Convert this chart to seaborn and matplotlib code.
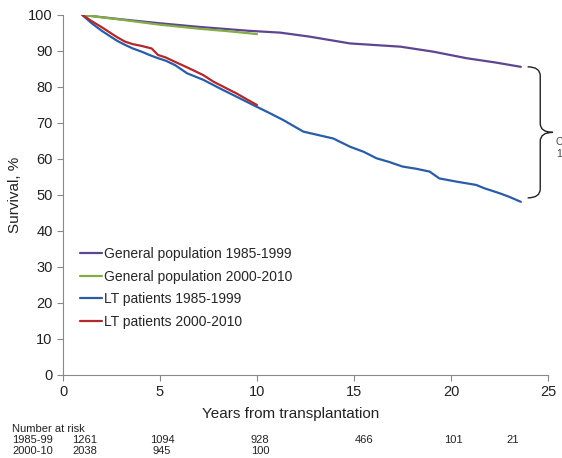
import matplotlib
matplotlib.use("Agg")
import matplotlib.pyplot as plt
from matplotlib.path import Path
from matplotlib.patches import PathPatch
import seaborn as sns
import pandas as pd

# Kaplan-Meier style survival estimates (years, %)
gp_8599_x = [1.0, 3.0, 5.0, 7.0, 9.6, 11.2, 12.7, 14.8, 17.4, 19.1, 20.8, 22.3, 23.6]
gp_8599_y = [100, 98.8, 97.7, 96.7, 95.6, 95.1, 94.0, 92.1, 91.2, 89.8, 88.0, 86.8, 85.6]

gp_0010_x = [1.0, 3.0, 5.0, 7.0, 8.5, 10.0]
gp_0010_y = [100, 98.7, 97.3, 96.2, 95.5, 94.7]

lt_8599_x = [1.0, 1.48, 2.0, 2.34, 2.8, 3.2, 3.6, 4.06, 4.5, 4.9, 5.3, 5.77, 6.4,
             7.23, 8.09, 8.95, 9.8, 10.67, 11.36, 12.39, 13.2, 13.93, 14.8, 15.5,
             16.16, 16.8, 17.5, 18.2, 18.9, 19.4, 20.3, 21.3, 21.7, 22.5, 23.0, 23.6]
lt_8599_y = [100, 97.7, 95.6, 94.4, 92.8, 91.7, 90.7, 89.8, 88.8, 88.0, 87.3, 86.1,
             83.8, 82.0, 79.6, 77.3, 75.0, 72.7, 70.8, 67.6, 66.6, 65.7, 63.4, 62.0,
             60.2, 59.2, 57.9, 57.3, 56.5, 54.6, 53.7, 52.8, 51.9, 50.5, 49.5, 48.1]

lt_0010_x = [1.0, 1.48, 2.0, 2.34, 2.8, 3.2, 3.6, 4.06, 4.57, 4.9, 5.3, 5.77, 6.5,
             7.23, 7.75, 8.4, 8.95, 9.5, 10.0]
lt_0010_y = [100, 98.3, 96.6, 95.4, 93.8, 92.6, 91.9, 91.4, 90.7, 88.9, 88.2, 87.0,
             85.2, 83.3, 81.5, 79.7, 78.2, 76.5, 75.0]

series_names = ["General population 1985-1999", "General population 2000-2010",
                "LT patients 1985-1999", "LT patients 2000-2010"]
series_colors = ["#5e4592", "#84ad45", "#2a5da8", "#b3282b"]

# Number at risk table
risk_rows = ["1985-99", "2000-10"]
risk_8599 = ["1261", "1094", "928", "466", "101", "21"]
risk_0010 = ["2038", "945", "100"]

x_ticks = [0, 5, 10, 15, 20, 25]
y_ticks = list(range(0, 101, 10))

sns.set_theme(style="white")
plt.rcParams["font.family"] = ["Liberation Sans", "DejaVu Sans"]

frames = []
for name, xs, ys in zip(series_names,
                        [gp_8599_x, gp_0010_x, lt_8599_x, lt_0010_x],
                        [gp_8599_y, gp_0010_y, lt_8599_y, lt_0010_y]):
    frames.append(pd.DataFrame({"years": xs, "survival": ys, "group": name}))
df = pd.concat(frames, ignore_index=True)

W, H = 562, 458
fig = plt.figure(figsize=(W / 100, H / 100), dpi=100)
ax = fig.add_axes([63 / W, 1 - 375 / H, (548 - 63) / W, (375 - 15) / H])

sns.lineplot(data=df, x="years", y="survival", hue="group", hue_order=series_names,
             palette=dict(zip(series_names, series_colors)), sort=False,
             estimator=None, linewidth=1.6, ax=ax)

ax.set_xlim(0, 25)
ax.set_ylim(0, 100)
ax.set_xticks(x_ticks)
ax.set_yticks(y_ticks)
ax.tick_params(axis="both", labelsize=10.5, labelcolor="#222222", length=4, width=0.8,
               direction="out", left=True, bottom=True, color="#888888")
for side in ["top", "right"]:
    ax.spines[side].set_visible(False)
for side in ["left", "bottom"]:
    ax.spines[side].set_color("#888888")
    ax.spines[side].set_linewidth(0.8)

ax.set_ylabel("Survival, %", fontsize=11, color="#222222")
ax.yaxis.set_label_coords(-0.085, 0.5)
ax.set_xlabel("Years from transplantation", fontsize=11, color="#222222")
ax.xaxis.set_label_coords((291 - 63) / (548 - 63), -0.09)

leg = ax.legend(loc="upper left", bbox_to_anchor=(80 / W, 1 - 247 / H),
                bbox_transform=fig.transFigure, frameon=False, fontsize=10,
                handlelength=1.6, handletextpad=0.15, labelspacing=0.62,
                borderpad=0, borderaxespad=0)
for line in leg.get_lines():
    line.set_linewidth(1.6)

# curly brace marking the gap at the end of follow-up
x0, x1, x2 = 23.95, 24.6, 25.25
ytop, ybot = 85.6, 49.2
ymid = (ytop + ybot) / 2
d = 2.5
verts = [(x0, ytop), (x1, ytop), (x1, ytop - d),
         (x1, ymid + d),
         (x1, ymid), (x2, ymid),
         (x1, ymid), (x1, ymid - d),
         (x1, ybot + d),
         (x1, ybot), (x0, ybot)]
codes = [Path.MOVETO, Path.CURVE3, Path.CURVE3,
         Path.LINETO,
         Path.CURVE3, Path.CURVE3,
         Path.CURVE3, Path.CURVE3,
         Path.LINETO,
         Path.CURVE3, Path.CURVE3]
ax.add_patch(PathPatch(Path(verts, codes), facecolor="none", edgecolor="#222222",
                       linewidth=1.0, clip_on=False))
ax.text(25.4, 63.0, "C\n1", fontsize=7.5, color="#444444", ha="left", va="center",
        linespacing=1.3, clip_on=False)

# number-at-risk table under the axis
tfs = 8
row_y = [440, 451]
fig.text(12 / W, 1 - 429 / H, "Number at risk", fontsize=tfs, color="#222222", va="center")
for ry, lab in zip(row_y, risk_rows):
    fig.text(12 / W, 1 - ry / H, lab, fontsize=tfs, color="#222222", va="center")
col_px = [85, 162, 260, 364, 453, 513]
for px, val in zip(col_px, risk_8599):
    fig.text(px / W, 1 - row_y[0] / H, val, fontsize=tfs, color="#222222",
             va="center", ha="center")
for px, val in zip(col_px, risk_0010):
    fig.text(px / W, 1 - row_y[1] / H, val, fontsize=tfs, color="#222222",
             va="center", ha="center")

fig.savefig("out.png", dpi=100, facecolor="white")
